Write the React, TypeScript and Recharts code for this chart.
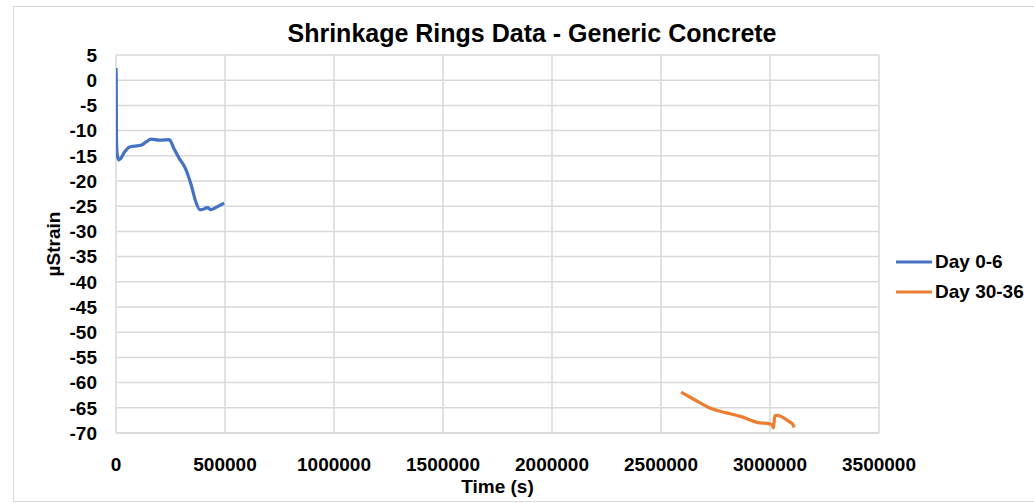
import React from "react";
import { CartesianGrid, Line, LineChart, XAxis, YAxis } from "recharts";

// Day 0-6 readings (time in seconds, strain in µstrain)
const day0Times = [0, 1000, 2000, 5000, 12000, 20000, 40000, 60000, 80000, 115000, 140000, 160000, 200000, 245000, 265000, 290000, 315000, 345000, 365000, 385000, 400000, 420000, 435000, 460000, 496000];
const day0Strain = [2.4, 0.5, -11.0, -14.5, -15.8, -15.6, -14.2, -13.3, -13.1, -12.9, -12.2, -11.7, -11.9, -11.8, -13.5, -15.5, -17.2, -20.8, -24.0, -25.7, -25.6, -25.3, -25.7, -25.2, -24.4];

// Day 30-36 readings
const day30Times = [2592000, 2650000, 2727000, 2800000, 2864000, 2941000, 3000000, 3010000, 3016000, 3022000, 3030000, 3050000, 3070000, 3090000, 3105000, 3110000];
const day30Strain = [-61.9, -63.3, -65.1, -66.0, -66.7, -67.9, -68.2, -68.4, -69.0, -66.6, -66.5, -66.7, -67.2, -67.8, -68.3, -68.9];

const xTicks = [0, 500000, 1000000, 1500000, 2000000, 2500000, 3000000, 3500000];
const yTicks = [5, 0, -5, -10, -15, -20, -25, -30, -35, -40, -45, -50, -55, -60, -65, -70];

const seriesNames = ["Day 0-6", "Day 30-36"];
const seriesColors = ["#4472C4", "#ED7D31"];

const day0Data = day0Times.map((t, i) => ({ t, v: day0Strain[i] }));
const day30Data = day30Times.map((t, i) => ({ t, v: day30Strain[i] }));

const font = "'Liberation Sans', Arial, sans-serif";
const tickStyle = { fill: "#000", fontSize: 19, fontWeight: 700, fontFamily: font };

function LegendBox() {
  return (
    <div
      style={{
        position: "absolute",
        left: 896,
        top: 247,
        fontFamily: font,
        fontSize: 19,
        fontWeight: 700,
        color: "#000",
        whiteSpace: "nowrap",
      }}
    >
      {seriesNames.map((name, i) => (
        <div key={name} style={{ display: "flex", alignItems: "center", height: 30 }}>
          <svg width={39} height={10}>
            <line x1={0} y1={5} x2={36} y2={5} stroke={seriesColors[i]} strokeWidth={3} />
          </svg>
          <span>{name}</span>
        </div>
      ))}
    </div>
  );
}

export default function App() {
  return (
    <div style={{ position: "absolute", left: 0, top: 0, width: 1034, height: 503, background: "#fff", overflow: "hidden" }}>
      <div
        style={{
          position: "absolute",
          left: 13,
          top: 6,
          width: 1040,
          height: 494,
          border: "1px solid #d9d9d9",
        }}
      />
      <div
        style={{
          position: "absolute",
          left: 15,
          top: 19,
          width: 1034,
          textAlign: "center",
          fontFamily: font,
          fontSize: 25,
          fontWeight: 700,
          color: "#000",
        }}
      >
        Shrinkage Rings Data - Generic Concrete
      </div>
      <LineChart
        width={1034}
        height={503}
        margin={{ top: 55, right: 155, bottom: 0, left: 0 }}
        style={{ position: "absolute", left: 0, top: 0 }}
      >
        <CartesianGrid stroke="#d9d9d9" strokeWidth={1.5} />
        <XAxis
          type="number"
          dataKey="t"
          domain={[0, 3500000]}
          ticks={xTicks}
          allowDataOverflow
          height={70}
          tickLine={false}
          axisLine={{ stroke: "#d9d9d9", strokeWidth: 1.5 }}
          tickSize={0}
          tickMargin={25}
          tick={tickStyle}
          interval={0}
          label={{ value: "Time (s)", position: "insideBottom", offset: 10, style: tickStyle }}
        />
        <YAxis
          type="number"
          dataKey="v"
          domain={[-70, 5]}
          ticks={yTicks}
          allowDataOverflow
          width={116}
          tickLine={false}
          axisLine={false}
          tickSize={0}
          tickMargin={19}
          tick={tickStyle}
          interval={0}
          label={{
            content: ({ viewBox }: any) => {
              const cx = viewBox.x + 53;
              const cy = viewBox.y + viewBox.height / 2;
              return (
                <text
                  x={cx}
                  y={cy}
                  transform={`rotate(-90 ${cx} ${cy})`}
                  textAnchor="middle"
                  dominantBaseline="central"
                  style={tickStyle}
                >
                  µStrain
                </text>
              );
            },
          }}
        />
        <Line
          data={day0Data}
          type="monotone"
          dataKey="v"
          name={seriesNames[0]}
          stroke={seriesColors[0]}
          strokeWidth={3.2}
          strokeLinejoin="round"
          dot={false}
          isAnimationActive={false}
        />
        <Line
          data={day30Data}
          type="monotone"
          dataKey="v"
          name={seriesNames[1]}
          stroke={seriesColors[1]}
          strokeWidth={3.2}
          strokeLinejoin="round"
          dot={false}
          isAnimationActive={false}
        />
      </LineChart>
      <LegendBox />
    </div>
  );
}
